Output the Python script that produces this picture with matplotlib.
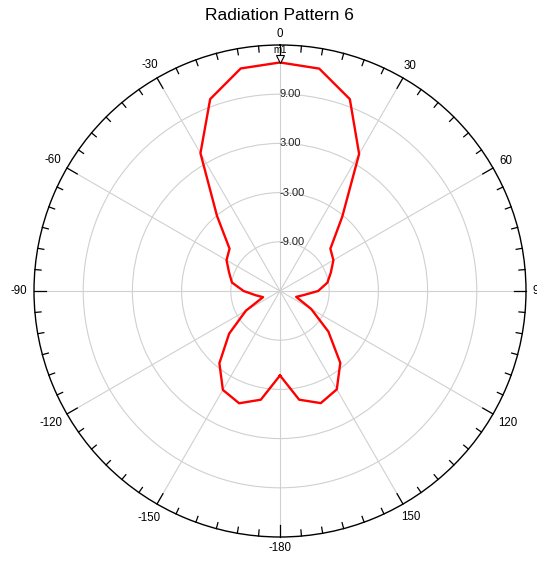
import matplotlib.pyplot as plt
import numpy as np

plt.rcParams['font.family'] = ['Liberation Sans', 'DejaVu Sans']

# gain (dB), every 10 degrees, -180..180
angles_deg = [-180, -170, -160, -150, -140, -130, -120, -110, -100, -90,
              -80, -70, -60, -50, -40, -30, -20, -10, 0,
              10, 20, 30, 40, 50, 60, 70, 80, 90,
              100, 110, 120, 130, 140, 150, 160, 170, 180]
gain_db = [-4.7, -1.54, -0.43, -1.07, -3.5, -6.9, -10.2, -12.8, -12.0, -10.56,
           -9.05, -8.39, -7.47, -6.97, -3.05, 4.4, 9.9, 12.56, 12.87,
           12.54, 9.9, 4.3, -3.2, -6.98, -7.48, -8.4, -9.13, -10.35,
           -12.1, -12.9, -10.6, -7.3, -3.56, -1.15, -0.45, -1.54, -4.7]
ring_values = [-9, 3, -3, 9]
angle_labels = [0, 30, 60, 90, 120, 150, -180, -150, -120, -90, -60, -30]

rmin, rmax = -15, 15
R_PX = 246.0  # outer circle radius in pixels

fig = plt.figure(figsize=(5.37, 5.61), dpi=100)
ax = fig.add_axes([34 / 537, 24 / 561, 492 / 537, 492 / 561], projection='polar')
ax.set_theta_zero_location('N')
ax.set_theta_direction(-1)
ax.set_ylim(rmin, rmax)

ax.set_xticks(np.deg2rad(np.arange(0, 360, 30)))
ax.set_xticklabels([])
ax.set_yticks(sorted(ring_values))
ax.set_yticklabels([])
ax.grid(True, color='#d0d0d0', linewidth=0.8)
ax.spines['polar'].set_color('black')
ax.spines['polar'].set_linewidth(1.0)

# tick marks on the outer circle
for a in range(0, 360, 5):
    L = 1.45 if a % 30 == 0 else 0.75
    th = np.deg2rad(a)
    ax.plot([th, th], [rmax, rmax - L], color='black', lw=0.9, clip_on=False)

# angle labels outside, pushed out by the text's own extent
fs = 8.3
em = fs * 100 / 72
for a in angle_labels:
    s = str(a)
    w = sum(0.333 * em if c == '-' else 0.556 * em for c in s)
    t = np.deg2rad(a)
    ext = w / 2 * abs(np.sin(t)) + 4 * abs(np.cos(t))
    r_px = 253 + ext
    ax.text(t, rmin + (rmax - rmin) * r_px / R_PX, s,
            ha='center', va='center', fontsize=fs, clip_on=False)

# ring labels
for v in ring_values:
    ax.text(0, v, f'{v:.2f}', ha='left', va='center', fontsize=8, color='#222222')

th = np.deg2rad(angles_deg)
ax.plot(th, gain_db, color='red', lw=1.7)

# marker m1 at 0 deg
peak = gain_db[angles_deg.index(0)]
ax.plot([0], [peak + 0.45], marker='v', markersize=5.5, markerfacecolor='white',
        markeredgecolor='black', markeredgewidth=0.8, clip_on=False)
ax.text(0, peak + 1.55, 'm1', ha='center', va='center', fontsize=7)

fig.text(279 / 537, 1 - 16 / 561, 'Radiation Pattern 6', ha='center', va='center',
         fontsize=12.5)

fig.savefig('out.png', dpi=100)
